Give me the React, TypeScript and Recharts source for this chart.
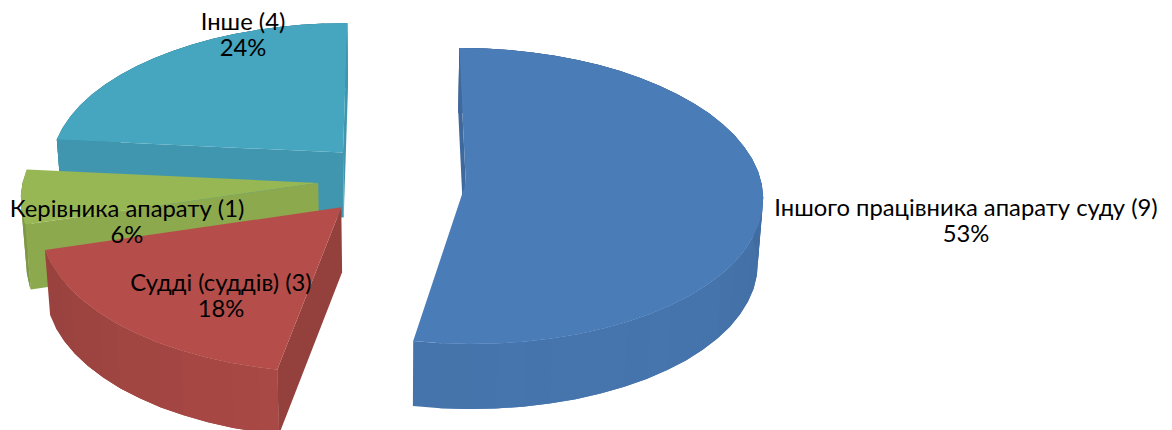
import { PieChart, Pie, Cell } from "recharts";

const sliceNames = ["Інше", "Керівника апарату", "Судді (суддів)", "Іншого працівника апарату суду"];
const sliceCounts = [4, 1, 3, 9];
const sliceColors = ["#46a5bf", "#97b654", "#b54e4a", "#4a7cb8"];
const edgeShades = [0.91, 0.93, 0.82, 0.85];
const labelSpots = [
  { x: 243, y: 30 },
  { x: 127, y: 217 },
  { x: 221, y: 291 },
  { x: 966, y: 216 },
];

const chartData = sliceNames.map((name, i) => ({ name, value: sliceCounts[i] }));

const EXPLODE = 74;
const SQUASH = 0.5;
const PERSPECTIVE = 0.0003;
const DEPTH = 65;
const FLOOR_SCALE = 0.985;
const FACET_STEP = 5;

const shade = (hex: string, f: number) => {
  const n = parseInt(hex.slice(1), 16);
  const c = [(n >> 16) & 255, (n >> 8) & 255, n & 255].map((v) => Math.round(v * f));
  return `rgb(${c[0]},${c[1]},${c[2]})`;
};

const rad = (deg: number) => (deg * Math.PI) / 180;

const toPath = (pts: number[][]) => "M" + pts.map((p) => `${p[0].toFixed(1)},${p[1].toFixed(1)}`).join("L") + "Z";

// draws one slice as a thick wedge, the angles come from the Pie layout
const WedgeShape = (props: any) => {
  const { cx, cy, outerRadius, startAngle, endAngle, fill, index } = props;
  const mid = (startAngle + endAngle) / 2;
  const ox = EXPLODE * Math.cos(rad(mid));
  const oy = -EXPLODE * Math.sin(rad(mid));

  const project = (x: number, y: number) => {
    const s = 1 + PERSPECTIVE * y;
    return [cx + x * s, cy + SQUASH * y * s];
  };
  const onRim = (deg: number) => project(ox + outerRadius * Math.cos(rad(deg)), oy - outerRadius * Math.sin(rad(deg)));
  const drop = (p: number[]) => [cx + (p[0] - cx) * FLOOR_SCALE, p[1] + DEPTH];

  const apex = project(ox, oy);
  const angles: number[] = [];
  for (let a = startAngle; a < endAngle; a += FACET_STEP) angles.push(a);
  angles.push(endAngle);
  const rim = angles.map(onRim);

  const edgeFill = shade(fill, edgeShades[index]);

  // only the cut faces turned towards the viewer get drawn
  const cutFaces: number[][] = [];
  if (Math.cos(rad(startAngle)) > -0.01) cutFaces.push(rim[0]);
  if (Math.cos(rad(endAngle)) < 0.01) cutFaces.push(rim[rim.length - 1]);

  return (
    <g>
      {rim.slice(0, -1).map((p, i) => {
        const clockDeg = ((90 - angles[i] + 360) % 360) - 2.5;
        const f = 0.84 + 0.1 * Math.cos(rad(clockDeg - 160)) + (i % 3 === 0 ? 0.006 : 0);
        // each facet runs under the next one so no seam shows
        const next = rim.slice(i + 1, i + 3);
        const pts = [p, ...next];
        const d = toPath([...pts, ...pts.map(drop).reverse()]);
        return <path key={i} d={d} fill={shade(fill, f)} />;
      })}
      {cutFaces.map((p, i) => (
        <path key={i} d={toPath([apex, p, drop(p), drop(apex)])} fill={edgeFill} />
      ))}
      <path d={toPath([apex, ...rim])} fill={fill} />
    </g>
  );
};

const SliceLabel = (props: any) => {
  const { index, percent, name, value } = props;
  const spot = labelSpots[index];
  return (
    <text x={spot.x} y={spot.y} textAnchor="middle" fontFamily="Lato" fontSize={23.8} fill="#000000">
      <tspan x={spot.x}>{`${name} (${value})`}</tspan>
      <tspan x={spot.x} dy={25.5}>{`${Math.round(percent * 100)}%`}</tspan>
    </text>
  );
};

const App: React.FC = () => {
  return (
    <div style={{ position: "absolute", left: 0, top: 0, width: 1172, height: 430, overflow: "hidden" }}>
      <PieChart width={1172} height={430} margin={{ top: 0, right: 0, bottom: 0, left: 0 }}>
        <Pie
          data={chartData}
          dataKey="value"
          nameKey="name"
          cx={392}
          cy={179.5}
          innerRadius={0}
          outerRadius={295}
          startAngle={90}
          endAngle={450}
          stroke="none"
          shape={WedgeShape}
          label={SliceLabel}
          labelLine={false}
          isAnimationActive={false}
        >
          {chartData.map((d, i) => (
            <Cell key={d.name} fill={sliceColors[i]} />
          ))}
        </Pie>
      </PieChart>
    </div>
  );
};

export default App;
